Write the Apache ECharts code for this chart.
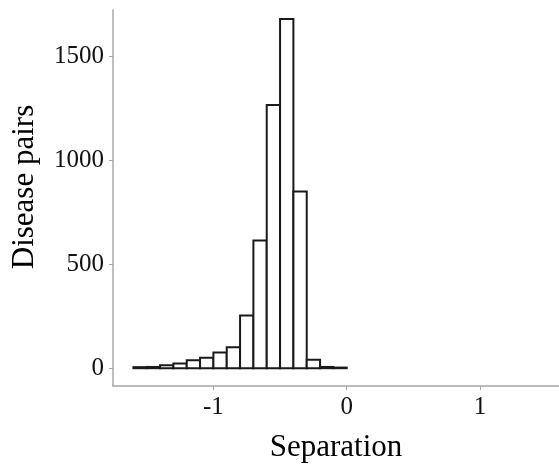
<!DOCTYPE html>
<html>
<head>
<meta charset="utf-8">
<script src="https://cdn.jsdelivr.net/npm/echarts@6/dist/echarts.min.js"></script>
<style>html,body{margin:0;padding:0;background:#fff;}#c{width:559px;height:468px;}</style>
</head>
<body>
<div id="c"></div>
<script>
const binStarts = [-1.6,-1.5,-1.4,-1.3,-1.2,-1.1,-1.0,-0.9,-0.8,-0.7,-0.6,-0.5,-0.4,-0.3,-0.2,-0.1];
const binEnds   = [-1.5,-1.4,-1.3,-1.2,-1.1,-1.0,-0.9,-0.8,-0.7,-0.6,-0.5,-0.4,-0.3,-0.2,-0.1,0.0];
const counts    = [5,6,14,22,38,50,75,101,254,614,1267,1681,850,41,6,3];
const xTicks = [-1, 0, 1];
const yTicks = [0, 500, 1000, 1500];

const data = binStarts.map((s, i) => [s, binEnds[i], counts[i]]);
const chart = echarts.init(document.getElementById('c'), null, {renderer: 'canvas'});
const font = '"Liberation Serif", "Times New Roman", serif';
chart.setOption({
  animation: false,
  backgroundColor: '#fff',
  grid: {left: 113, right: 0, top: 10, bottom: 78},
  graphic: [{
    type: 'text', x: 25, y: 187, rotation: Math.PI / 2,
    style: {text: 'Disease pairs', font: '31px ' + font, fill: '#000', align: 'center', verticalAlign: 'middle'}
  }],
  xAxis: {
    type: 'value', min: -1.753, max: 1.592,
    name: 'Separation', nameLocation: 'middle', nameGap: 46,
    nameTextStyle: {fontFamily: font, fontSize: 31, color: '#000'},
    axisLine: {show: true, onZero: false, lineStyle: {color: '#a8a8a8', width: 1.5}},
    axisTick: {show: true, length: 4, lineStyle: {color: '#a8a8a8'}, customValues: xTicks},
    axisLabel: {fontFamily: font, fontSize: 25, color: '#111', margin: 9, customValues: xTicks,
      formatter: v => String(v)},
    splitLine: {show: false}
  },
  yAxis: {
    type: 'value', min: -85.7, max: 1724,
    axisLine: {show: true, onZero: false, lineStyle: {color: '#a8a8a8', width: 1.5}},
    axisTick: {show: true, length: 4, lineStyle: {color: '#a8a8a8'}, customValues: yTicks},
    axisLabel: {fontFamily: font, fontSize: 25, color: '#111', margin: 9, customValues: yTicks,
      formatter: v => String(v)},
    splitLine: {show: false}
  },
  series: [{
    type: 'custom',
    data: data,
    encode: {x: [0, 1], y: 2},
    renderItem: function (params, api) {
      const p0 = api.coord([api.value(0), api.value(2)]);
      const p1 = api.coord([api.value(1), 0]);
      return {
        type: 'rect',
        shape: {x: p0[0], y: p0[1], width: p1[0] - p0[0], height: p1[1] - p0[1]},
        style: {fill: '#fff', stroke: '#1a1a1a', lineWidth: 2}
      };
    }
  }]
});
</script>
</body>
</html>
